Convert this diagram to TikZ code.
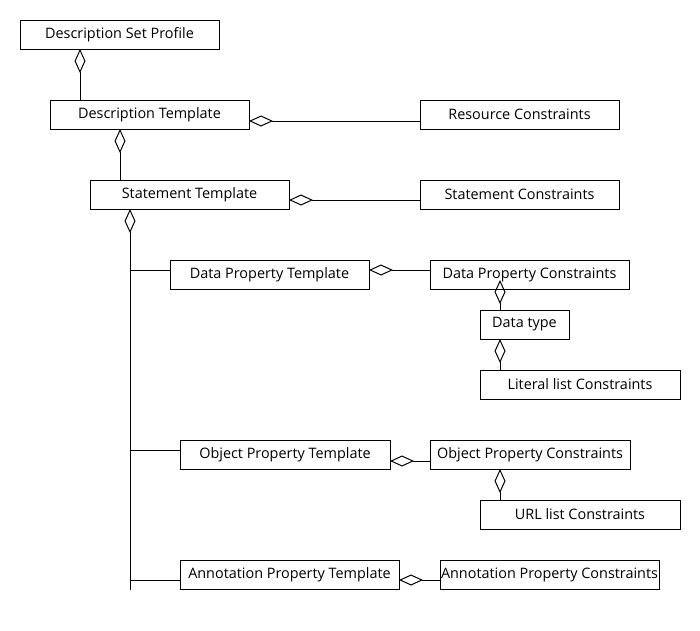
\documentclass[tikz,border=0pt]{standalone}
\usepackage{fontspec}
\setmainfont{Open Sans}
\usetikzlibrary{arrows.meta,calc}

\begin{document}
\begin{tikzpicture}[x=1pt, y=-1pt, line width=1pt,
        box/.style = {draw, anchor=north west, minimum height=29pt, inner sep=1pt, outer sep=0pt,
                      font=\fontsize{14.4}{16}\selectfont},
        agg/.style = {{Diamond[open, length=24pt, width=11pt]}-},]
        \useasboundingbox (0,0) rectangle (700,630);

        \node[box, minimum width=199pt] (dsp) at (20,20) {Description Set Profile};
        \node[box, minimum width=199pt] (dt) at (50,100) {Description Template};
        \node[box, minimum width=199pt] (rc) at (420,100) {Resource Constraints};
        \node[box, minimum width=199pt] (st) at (90,180) {Statement Template};
        \node[box, minimum width=199pt] (sc) at (420,180) {Statement Constraints};
        \node[box, minimum width=199pt] (dpt) at (170,260) {Data Property Template};
        \node[box, minimum width=199pt] (dpc) at (430,260) {Data Property Constraints};
        \node[box, minimum width=89pt] (dtype) at (480,310) {Data type};
        \node[box, minimum width=200pt] (llc) at (480,370) {Literal list Constraints};
        \node[box, minimum width=210pt] (opt) at (180,440) {Object Property Template};
        \node[box, minimum width=200pt] (opc) at (430,440) {Object Property Constraints};
        \node[box, minimum width=200pt] (ulc) at (480,500) {URL list Constraints};
        \node[box, minimum width=219pt] (apt) at (180,560) {Annotation Property Template};
        \node[box, minimum width=219pt, inner sep=0pt] (apc) at (440,560) {Annotation Property Constraints};

        \coordinate (trunk) at ($(apt.south west)+(-50,1)$);

        \draw[agg] ($(dsp.south west)+(60,0)$) coordinate (a1) -- (a1 |- dt.north);
        \draw[agg] ($(dt.south west)+(70,0)$) coordinate (a2) -- (a2 |- st.north);
        \draw[agg] ($(dt.east)+(0,6.5)$) coordinate (a3) -- (a3 -| rc.west);
        \draw[agg] ($(st.east)+(0,5.5)$) coordinate (a4) -- (a4 -| sc.west);
        \draw[agg] ($(st.south west)+(40,0)$) -- (trunk);

        \draw ($(dpt.west)+(0,-4.5)$) coordinate (b1) -- (b1 -| trunk);
        \draw ($(opt.west)+(0,-4.5)$) coordinate (b2) -- (b2 -| trunk);
        \draw ($(apt.west)+(0,5.5)$) coordinate (b3) -- (b3 -| trunk);

        \draw[agg] ($(dpt.east)+(0,-4.5)$) coordinate (a5) -- (a5 -| dpc.west);
        \draw[agg] ($(opt.east)+(0,6.5)$) coordinate (a6) -- (a6 -| opc.west);
        \draw[agg] ($(apt.east)+(0,5.5)$) coordinate (a7) -- (a7 -| apc.west);

        \draw[agg] ($(dtype.north west)+(20,-30)$) coordinate (a8) -- (a8 |- dtype.north);
        \draw[agg] ($(dtype.south west)+(20,0)$) coordinate (a9) -- (a9 |- llc.north);
        \draw[agg] ($(opc.south west)+(70,0)$) coordinate (a10) -- (a10 |- ulc.north);
    \end{tikzpicture}
\end{document}
